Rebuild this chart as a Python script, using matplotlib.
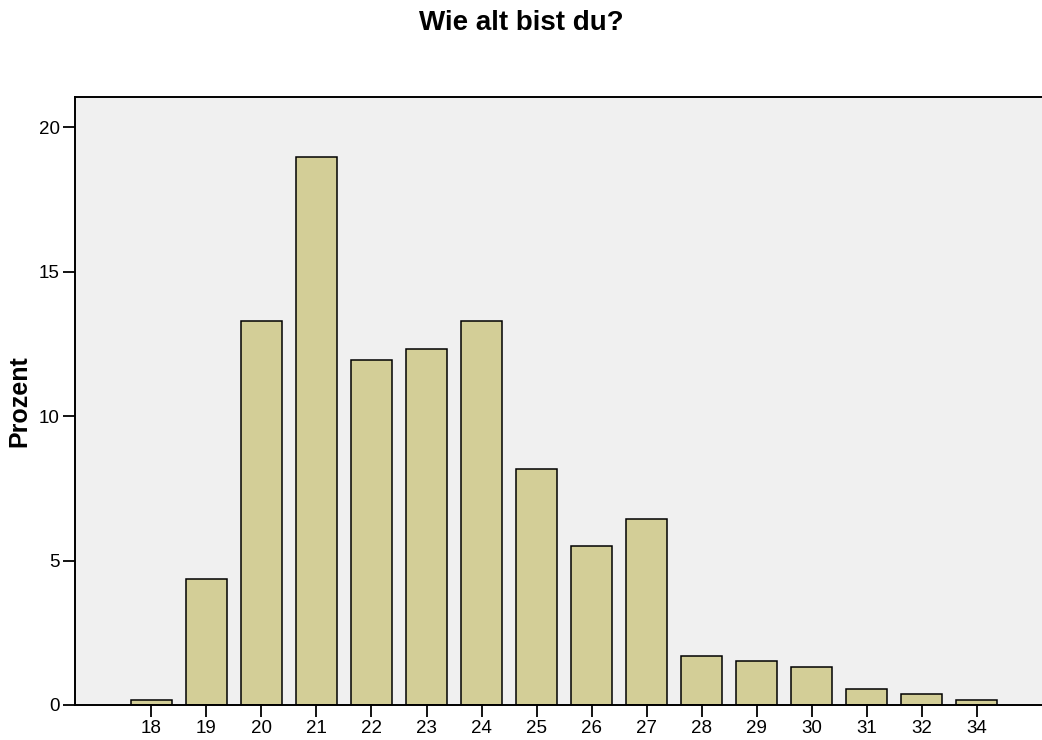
import matplotlib
matplotlib.use("Agg")
import matplotlib.pyplot as plt
import numpy as np

# age categories and percent share
ages = ["18", "19", "20", "21", "22", "23", "24", "25", "26", "27",
        "28", "29", "30", "31", "32", "34"]
percent = [0.19, 4.36, 13.28, 18.98, 11.95, 12.33, 13.28, 8.16, 5.5, 6.45,
           1.71, 1.52, 1.33, 0.57, 0.38, 0.19]

plt.rcParams["font.family"] = ["Liberation Sans", "DejaVu Sans"]

fig = plt.figure(figsize=(10.42, 7.4), dpi=100)
ax = fig.add_axes([0.072, 0.0473, 0.928, 0.822])
ax.set_facecolor("#f0f0f0")

x = np.arange(len(ages))
ax.bar(x, percent, width=0.76, color="#d3ce97", edgecolor="black",
       linewidth=1.1, zorder=2)

ax.set_xlim(-1.39, 16.19)
ax.set_ylim(0, 21.06)
ax.set_xticks(x)
ax.set_xticklabels(ages)
ax.set_yticks([0, 5, 10, 15, 20])
ax.tick_params(axis="both", direction="out", length=8.5, width=1.3,
               labelsize=13.5, pad=2.5, color="black")

for side in ["left", "top", "bottom"]:
    ax.spines[side].set_linewidth(1.4)
ax.spines["right"].set_visible(False)

ax.set_ylabel("Prozent", fontsize=18, fontweight="bold", labelpad=5)
fig.suptitle("Wie alt bist du?", fontsize=20, fontweight="bold", y=0.986)

fig.savefig("out.png", dpi=100)
